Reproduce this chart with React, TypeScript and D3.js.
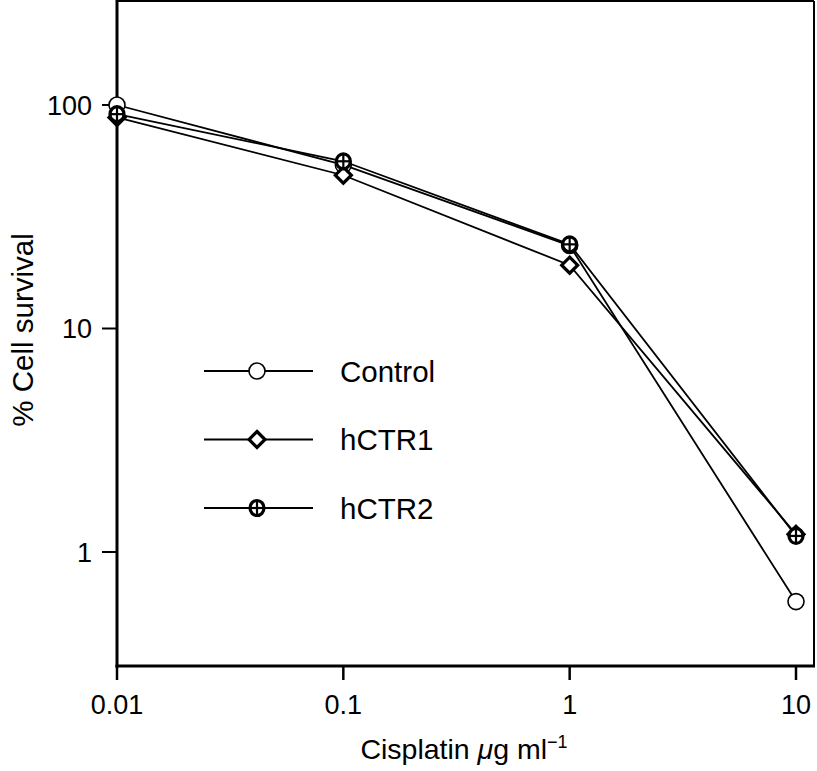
import * as d3 from "d3";

const doses = [0.01, 0.1, 1, 10];
const controlValues = [100, 54, 23.5, 0.6];
const hctr1Values = [88, 48.5, 19.2, 1.2];
const hctr2Values = [91, 56, 23.8, 1.18];
const xTicks = [0.01, 0.1, 1, 10];
const yTicks = [1, 10, 100];
const seriesNames = ["Control", "hCTR1", "hCTR2"];

const width = 817;
const height = 771;
const left = 117;
const right = 814;
const top = 1;
const bottom = 666;

const x = d3.scaleLog().domain([0.01, 10]).range([117, 796]);
const y = d3.scaleLog().domain([1, 100]).range([552, 105]);

const font = "Liberation Sans, Arial, Helvetica, sans-serif";

const Marker: React.FC<{ kind: number; cx: number; cy: number }> = ({ kind, cx, cy }) => {
  if (kind === 0) {
    return <circle cx={cx} cy={cy} r={8} fill="white" stroke="black" strokeWidth={1.6} />;
  }
  if (kind === 1) {
    const s = 8;
    return (
      <path
        d={`M${cx},${cy - s}L${cx + s},${cy}L${cx},${cy + s}L${cx - s},${cy}Z`}
        fill="white"
        stroke="black"
        strokeWidth={3.2}
      />
    );
  }
  return (
    <g>
      <ellipse cx={cx} cy={cy} rx={7} ry={7.5} fill="white" stroke="black" strokeWidth={3.2} />
      <line x1={cx - 7} x2={cx + 7} y1={cy} y2={cy} stroke="black" strokeWidth={2.2} />
      <line x1={cx} x2={cx} y1={cy - 7.5} y2={cy + 7.5} stroke="black" strokeWidth={2.2} />
    </g>
  );
};

export default function App() {
  const series = [controlValues, hctr1Values, hctr2Values];
  const line = d3
    .line<number>()
    .x((_, i) => x(doses[i]))
    .y((v) => y(v));

  return (
    <svg
      width={width}
      height={height}
      style={{ position: "absolute", left: 0, top: 0, background: "white" }}
      fontFamily={font}
    >
      {/* frame */}
      <line x1={left} x2={right} y1={top} y2={top} stroke="black" strokeWidth={2} />
      <line x1={right} x2={right} y1={top} y2={bottom} stroke="black" strokeWidth={2} />
      <line x1={left} x2={left} y1={0} y2={bottom + 1.5} stroke="black" strokeWidth={3} />
      <line x1={left - 1.5} x2={right + 1} y1={bottom} y2={bottom} stroke="black" strokeWidth={3} />

      {/* y axis */}
      {yTicks.map((t) => (
        <g key={t}>
          <line x1={left - 15} x2={left} y1={y(t)} y2={y(t)} stroke="black" strokeWidth={2} />
          <text x={92} y={y(t)} dy="0.36em" textAnchor="end" fontSize={27}>
            {t}
          </text>
        </g>
      ))}

      {/* x axis */}
      {xTicks.map((t) => (
        <g key={t}>
          <line x1={x(t)} x2={x(t)} y1={bottom} y2={bottom + 14} stroke="black" strokeWidth={2.5} />
          <text x={x(t)} y={714} textAnchor="middle" fontSize={27}>
            {t}
          </text>
        </g>
      ))}

      <text x={464} y={759} textAnchor="middle" fontSize={28.5}>
        Cisplatin <tspan fontStyle="italic">μ</tspan>g ml
        <tspan fontSize={18} dy={-11}>−1</tspan>
      </text>
      <text
        transform="translate(33,330) rotate(-90)"
        textAnchor="middle"
        fontSize={29.5}
      >
        % Cell survival
      </text>

      {/* lines */}
      {series.map((vals, k) => (
        <path key={k} d={line(vals) ?? ""} fill="none" stroke="black" strokeWidth={1.8} />
      ))}
      {series.map((vals, k) =>
        vals.map((v, i) => <Marker key={`${k}-${i}`} kind={k} cx={x(doses[i])} cy={y(v)} />)
      )}

      {/* legend */}
      {seriesNames.map((name, k) => {
        const ly = 371 + k * 68.5;
        return (
          <g key={name}>
            <line x1={204} x2={313} y1={ly} y2={ly} stroke="black" strokeWidth={1.8} />
            <Marker kind={k} cx={257} cy={ly} />
            <text x={340} y={ly} dy="0.37em" fontSize={29.5}>
              {name}
            </text>
          </g>
        );
      })}
    </svg>
  );
}
